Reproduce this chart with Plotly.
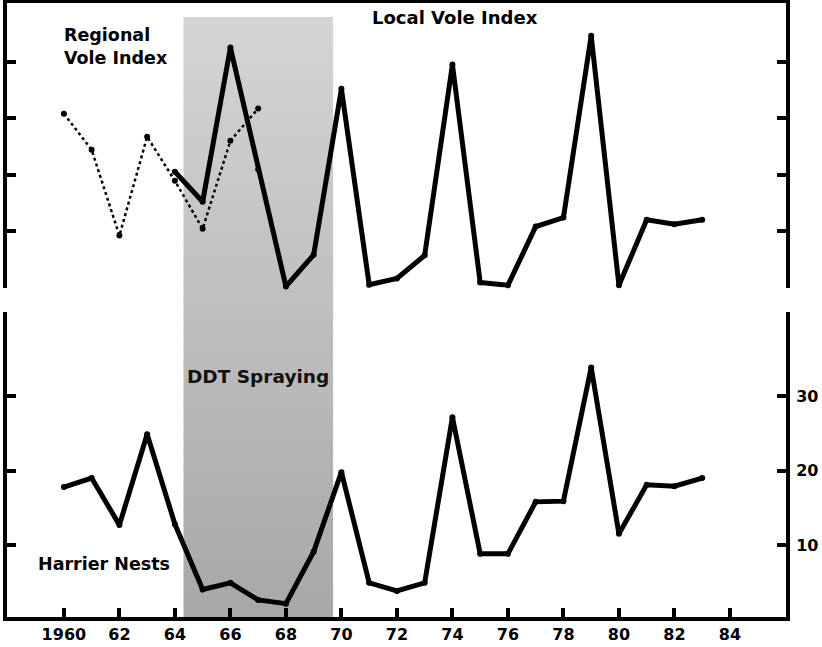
import plotly.graph_objects as go

years_local = list(range(1964, 1984))
local_vole = [2.05, 1.52, 4.25, 2.09, 0.02, 0.58, 3.52, 0.05, 0.16, 0.57,
              3.95, 0.09, 0.04, 1.08, 1.24, 4.46, 0.04, 1.20, 1.12, 1.20]

years_regional = list(range(1960, 1968))
regional_vole = [3.08, 2.44, 0.92, 2.67, 1.89, 1.04, 2.60, 3.17]

years_harrier = list(range(1960, 1984))
harrier_nests = [17.8, 19.0, 12.7, 24.9, 12.8, 4.0, 4.9, 2.6, 2.1, 9.1,
                 19.8, 4.9, 3.8, 4.9, 27.2, 8.8, 8.8, 15.8, 15.9, 33.9,
                 11.5, 18.1, 17.9, 19.0]

x_tickvals = list(range(1960, 1985, 2))
x_ticktext = ["1960", "62", "64", "66", "68", "70", "72", "74", "76", "78", "80", "82", "84"]
ddt_start, ddt_end = 1964.31, 1969.70

FONT = "DejaVu Sans"
BLACK = "#000000"

fig = go.Figure()

fig.add_trace(go.Scatter(x=years_regional, y=regional_vole, mode="lines+markers",
                         line=dict(color=BLACK, width=2.5, dash="dot"),
                         marker=dict(color=BLACK, size=6), cliponaxis=False,
                         xaxis="x2", yaxis="y2", showlegend=False))
fig.add_trace(go.Scatter(x=years_local, y=local_vole, mode="lines+markers",
                         line=dict(color=BLACK, width=5),
                         marker=dict(color=BLACK, size=6), cliponaxis=False,
                         xaxis="x2", yaxis="y2", showlegend=False))
fig.add_trace(go.Scatter(x=years_harrier, y=harrier_nests, mode="lines+markers",
                         line=dict(color=BLACK, width=5),
                         marker=dict(color=BLACK, size=6), cliponaxis=False,
                         xaxis="x", yaxis="y", showlegend=False))

xr = [1957.95, 1986.02]
top_dom = [0.5366, 1.0]
bot_dom = [0.0, 0.496]

# stippled DDT band: vertical gradient, light at top, darker at bottom
shade_top = 0.977
n_bands = 40
shapes = []
for i in range(n_bands):
    y0 = shade_top * i / n_bands
    y1 = shade_top * (i + 1) / n_bands
    t = i / (n_bands - 1)
    g = int(round(0xa8 + (0xd4 - 0xa8) * t))
    shapes.append(dict(type="rect", xref="x", yref="paper", x0=ddt_start, x1=ddt_end,
                       y0=y0, y1=min(y1 + 0.002, shade_top), fillcolor=f"rgb({g},{g},{g})",
                       line=dict(width=0), layer="below"))

tickfont = dict(family=FONT, size=16, weight="bold", color=BLACK)

fig.update_layout(
    width=822, height=647,
    margin=dict(l=5, r=36, t=3, b=29),
    paper_bgcolor="white", plot_bgcolor="rgba(0,0,0,0)",
    font=dict(family=FONT, color=BLACK, size=16, weight="bold"),
    xaxis=dict(domain=[0, 1], range=xr, anchor="y", showgrid=False, zeroline=False,
               showline=True, linecolor=BLACK, linewidth=4,
               ticks="inside", ticklen=9, tickwidth=4, tickcolor=BLACK,
               tickvals=x_tickvals, ticktext=x_ticktext, tickfont=tickfont),
    yaxis=dict(domain=bot_dom, range=[0.3, 41.3], anchor="x", side="right",
               showgrid=False, zeroline=False,
               showline=True, linecolor=BLACK, linewidth=4, mirror="ticks",
               ticks="inside", ticklen=9, tickwidth=4, tickcolor=BLACK,
               tickvals=[10, 20, 30], ticklabelstandoff=3, tickfont=tickfont),
    xaxis2=dict(domain=[0, 1], range=xr, anchor="y2", side="top", showgrid=False,
                zeroline=False, showline=True, linecolor=BLACK, linewidth=4,
                ticks="", showticklabels=False),
    yaxis2=dict(domain=top_dom, range=[0, 5.04], anchor="x2", showgrid=False,
                zeroline=False, showline=True, linecolor=BLACK, linewidth=4,
                mirror="ticks", ticks="inside", ticklen=9, tickwidth=4,
                tickcolor=BLACK, tickvals=[0, 1, 2, 3, 4], showticklabels=False),
    shapes=shapes,
    annotations=[
        dict(text="Regional<br>Vole Index", xref="paper", yref="paper",
             x=(60 - 5) / 781, y=(618 - 23) / 615, xanchor="left", yanchor="top",
             align="left", showarrow=False,
             font=dict(family=FONT, size=17.5, weight="bold", color=BLACK)),
        dict(text="Local Vole Index", xref="paper", yref="paper",
             x=(454 - 5) / 781, y=(618 - 18) / 615, xanchor="center", yanchor="middle",
             showarrow=False,
             font=dict(family=FONT, size=18, weight="bold", color=BLACK)),
        dict(text="DDT Spraying", xref="paper", yref="paper",
             x=(257 - 5) / 781, y=(618 - 377) / 615, xanchor="center", yanchor="middle",
             showarrow=False,
             font=dict(family=FONT, size=18.5, weight="bold", color="#111111")),
        dict(text="Harrier Nests", xref="paper", yref="paper",
             x=(102 - 5) / 781, y=(618 - 565) / 615, xanchor="center", yanchor="middle",
             showarrow=False,
             font=dict(family=FONT, size=17.5, weight="bold", color=BLACK)),
    ],
)

fig.write_html("out.html", config={"displayModeBar": False},
               post_script="document.body.style.margin='0px';")
